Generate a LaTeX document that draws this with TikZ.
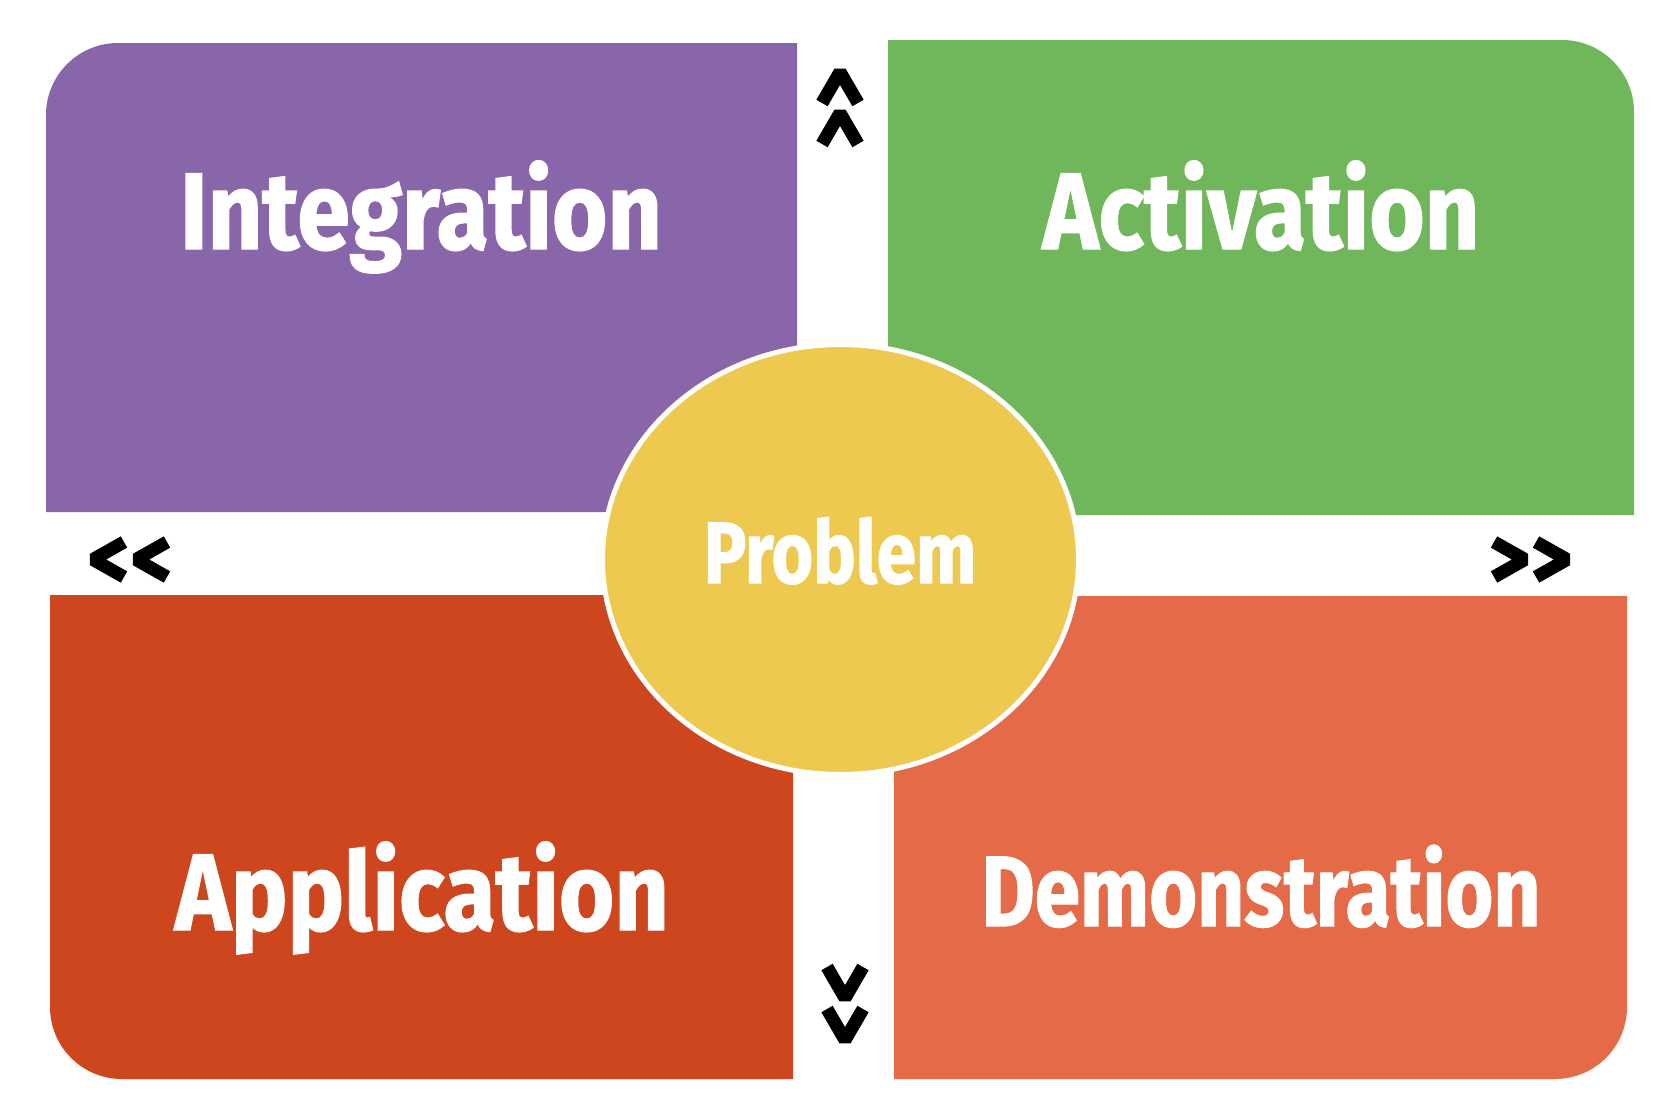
\documentclass[tikz,border=0pt]{standalone}
\usepackage{fontspec}
\setmainfont{Fira Sans}
\newfontfamily\labelfont[FakeStretch=0.82,FakeBold=1.2]{Fira Sans}
\newfontfamily\headfont[FakeStretch=0.87,FakeBold=1.3]{Fira Sans}
\usetikzlibrary{shapes.geometric}
\definecolor{integ}{RGB}{137,101,169}
\definecolor{activ}{RGB}{111,183,90}
\definecolor{applic}{RGB}{205,70,30}
\definecolor{demon}{RGB}{228,106,72}
\definecolor{probl}{RGB}{238,201,80}
\begin{document}
\begin{tikzpicture}[x=0.5pt,y=-0.5pt,
  title/.style={anchor=base, text=white, inner sep=0pt,
    font=\headfont\bfseries\fontsize{54.5}{58}\selectfont},
  chev/.style={line width=6.5pt, line join=bevel, line cap=butt, black}]
\useasboundingbox (0,0) rectangle (1680,1119);
\fill[white] (0,0) rectangle (1680,1119);

% quadrant panels, each with one rounded outer corner
\fill[integ] (46,278) [rounded corners=36pt] -- (46,43) -- (421,43) [sharp corners]
  -- (797,43) -- (797,512) -- (46,512) -- cycle;
\fill[activ] (1261,40) [rounded corners=36pt] -- (1634,40) -- (1634,278) [sharp corners]
  -- (1634,515) -- (888,515) -- (888,40) -- cycle;
\fill[applic] (50,837) [rounded corners=36pt] -- (50,1079) -- (421,1079) [sharp corners]
  -- (793,1079) -- (793,595) -- (50,595) -- cycle;
\fill[demon] (1627,837) [rounded corners=36pt] -- (1627,1079) -- (1261,1079) [sharp corners]
  -- (894,1079) -- (894,596) -- (1627,596) -- cycle;

% central problem ellipse
\node[ellipse, fill=probl, draw=white, line width=2.5pt, inner sep=0pt,
  minimum width=238pt, minimum height=215pt] (problem) at (840.5,559.5) {};

% labels
\node[title] (integration) at (421,249) {Integration};
\node[title] (activation) at (1261,249) {Activation};
\node[title] (application) at (422,930) {Application};
\node[title, font=\labelfont\bfseries\fontsize{50}{54}\selectfont] (demonstration) at (1261,926) {Demonstration};
\node[title, font=\labelfont\bfseries\fontsize{43.5}{48}\selectfont] (problemlabel) at (840,583) {Problem};

% chevrons between panels
\draw[chev] (822,103) -- (840,72) -- (858,103);
\draw[chev] (822,144) -- (840,113) -- (858,144);
\draw[chev] (827,967) -- (845,998) -- (863,967);
\draw[chev] (827,1009) -- (845,1040) -- (863,1009);
\draw[chev] (124,542) -- (93,559.5) -- (124,577);
\draw[chev] (167,542) -- (136,559.5) -- (167,577);
\draw[chev] (1494,542) -- (1525,559.5) -- (1494,577);
\draw[chev] (1536,542) -- (1567,559.5) -- (1536,577);
\end{tikzpicture}
\end{document}
